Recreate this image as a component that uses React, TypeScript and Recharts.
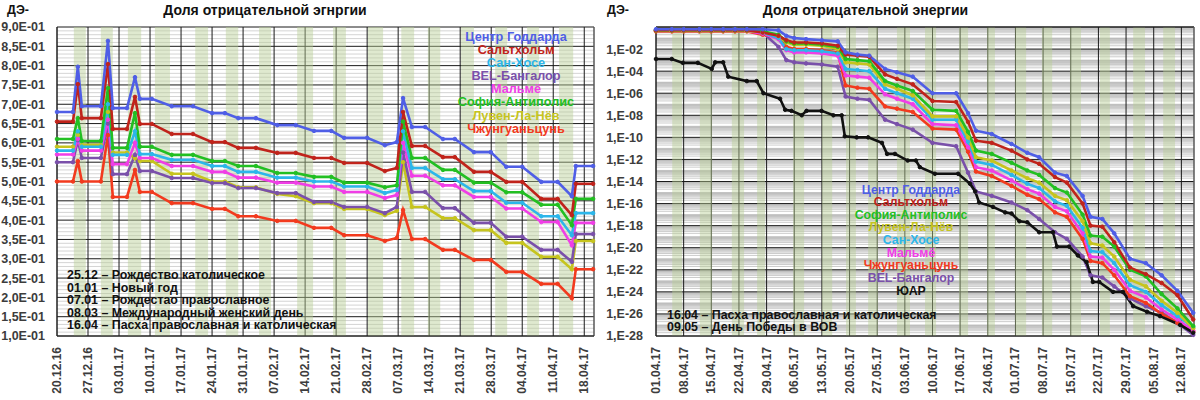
import { LineChart, Line, XAxis, YAxis, CartesianGrid, ReferenceArea, ReferenceLine } from 'recharts'

const FONT = '"Liberation Sans", Arial, sans-serif'

// ---------- left panel: linear share, Dec 2016 - Apr 2017 (x = days since 20.12.16)
const leftDays = [0, 3.6, 4.7, 5.6, 9.9, 11.5, 12.6, 15.8, 17.6, 18.7, 21.4, 25.9, 30.7, 35, 37.9, 40.9, 44.9, 49.7, 53.9, 58, 61.9, 64.8, 70, 74, 76.7, 78.1, 80.1, 83.1, 87.1, 89.8, 94.1, 97.9, 101.4, 105, 109.3, 113, 116.2, 117.1, 121]
const goddardL = [0.68, 0.68, 0.797, 0.695, 0.695, 0.864, 0.69, 0.69, 0.77, 0.714, 0.714, 0.695, 0.695, 0.677, 0.677, 0.664, 0.664, 0.646, 0.646, 0.631, 0.631, 0.613, 0.613, 0.594, 0.602, 0.716, 0.641, 0.641, 0.61, 0.61, 0.576, 0.576, 0.538, 0.538, 0.499, 0.499, 0.462, 0.54, 0.54]
const saltholmL = [0.655, 0.655, 0.752, 0.664, 0.664, 0.804, 0.636, 0.636, 0.719, 0.649, 0.649, 0.623, 0.623, 0.602, 0.602, 0.587, 0.587, 0.574, 0.574, 0.561, 0.561, 0.548, 0.548, 0.527, 0.535, 0.68, 0.592, 0.592, 0.563, 0.563, 0.525, 0.525, 0.499, 0.499, 0.455, 0.455, 0.413, 0.494, 0.494]
const sanJoseL = [0.58, 0.58, 0.63, 0.59, 0.59, 0.7, 0.569, 0.569, 0.63, 0.571, 0.571, 0.556, 0.556, 0.54, 0.54, 0.525, 0.525, 0.51, 0.51, 0.5, 0.5, 0.487, 0.487, 0.47, 0.478, 0.63, 0.535, 0.535, 0.506, 0.506, 0.475, 0.475, 0.445, 0.445, 0.41, 0.41, 0.361, 0.418, 0.418]
const bangaloreL = [0.55, 0.55, 0.607, 0.561, 0.561, 0.65, 0.519, 0.519, 0.569, 0.527, 0.527, 0.509, 0.509, 0.496, 0.496, 0.483, 0.483, 0.47, 0.47, 0.447, 0.447, 0.434, 0.434, 0.418, 0.434, 0.575, 0.473, 0.473, 0.431, 0.431, 0.393, 0.393, 0.357, 0.357, 0.323, 0.323, 0.292, 0.364, 0.364]
const malmoL = [0.57, 0.57, 0.61, 0.58, 0.58, 0.66, 0.545, 0.545, 0.6, 0.561, 0.561, 0.54, 0.54, 0.525, 0.525, 0.51, 0.51, 0.497, 0.497, 0.487, 0.487, 0.473, 0.473, 0.457, 0.465, 0.6, 0.515, 0.515, 0.49, 0.49, 0.46, 0.46, 0.43, 0.43, 0.395, 0.395, 0.335, 0.393, 0.393]
const sophiaL = [0.61, 0.61, 0.664, 0.605, 0.605, 0.742, 0.587, 0.587, 0.677, 0.59, 0.59, 0.569, 0.569, 0.553, 0.553, 0.54, 0.54, 0.522, 0.522, 0.512, 0.512, 0.497, 0.497, 0.485, 0.49, 0.655, 0.561, 0.561, 0.53, 0.53, 0.497, 0.497, 0.472, 0.472, 0.44, 0.44, 0.387, 0.455, 0.455]
const louvainL = [0.59, 0.59, 0.62, 0.595, 0.595, 0.68, 0.575, 0.575, 0.56, 0.553, 0.553, 0.52, 0.52, 0.5, 0.5, 0.485, 0.485, 0.468, 0.462, 0.444, 0.444, 0.429, 0.429, 0.413, 0.424, 0.55, 0.434, 0.434, 0.405, 0.405, 0.374, 0.374, 0.341, 0.341, 0.305, 0.305, 0.273, 0.346, 0.346]
const zhongguancunL = [0.5, 0.5, 0.553, 0.5, 0.5, 0.62, 0.46, 0.46, 0.53, 0.473, 0.473, 0.444, 0.444, 0.429, 0.429, 0.41, 0.41, 0.398, 0.398, 0.38, 0.38, 0.361, 0.361, 0.346, 0.354, 0.426, 0.351, 0.351, 0.323, 0.323, 0.297, 0.297, 0.266, 0.266, 0.235, 0.235, 0.198, 0.273, 0.273]

const leftTickDays = [0, 7, 14, 21, 28, 35, 42, 49, 56, 63, 70, 77, 84, 91, 98, 105, 112, 119]
const leftTickLabels = ['20.12.16', '27.12.16', '03.01.17', '10.01.17', '17.01.17', '24.01.17', '31.01.17', '07.02.17', '14.02.17', '21.02.17', '28.02.17', '07.03.17', '14.03.17', '21.03.17', '28.03.17', '04.04.17', '11.04.17', '18.04.17']
const leftYTicks = [0.1, 0.15, 0.2, 0.25, 0.3, 0.35, 0.4, 0.45, 0.5, 0.55, 0.6, 0.65, 0.7, 0.75, 0.8, 0.85, 0.9]
const leftBands = [[3.8, 6.5], [9.9, 12.6], [16, 19], [22.1, 25.5], [31.2, 34.1], [38.1, 40.9], [45.6, 48.3], [54.2, 57.8], [62.3, 65.2], [70.2, 73.6], [77.7, 80.6], [83.7, 86.5], [91.2, 94.1], [98.9, 101.6], [106.1, 108.8], [113.3, 116.5]]
const leftNotes = ['25.12 – Рождество католическое', '01.01 – Новый год', '07.01 – Рождестао православное', '08.03 – Международный женский день', '16.04 – Пасха православная и католическая']

// ---------- right panel: log10 of share, Apr - Aug 2017 (x = days since 01.04.17)
const rightDays = [0, 4, 7, 11, 14, 17, 20, 23, 27, 31, 33, 35, 38, 42, 46, 48, 51, 54, 58, 61, 65, 70, 76, 79, 81, 85, 90, 94, 97, 101, 104, 108, 110, 113, 116, 120, 124, 128, 132, 136]
const goddardR = [-0.2, -0.2, -0.2, -0.2, -0.2, -0.2, -0.2, -0.2, -0.2, -0.3, -0.8, -1.0, -1.1, -1.2, -1.3, -2.3, -2.5, -2.6, -3.8, -4.1, -4.5, -6.0, -6.0, -7.8, -9.4, -9.7, -10.6, -11.4, -11.8, -13.2, -13.5, -15.3, -17.2, -17.4, -18.7, -21, -21.4, -22.5, -23.9, -25.9]
const saltholmR = [-0.3, -0.3, -0.3, -0.3, -0.3, -0.3, -0.3, -0.3, -0.5, -0.8, -1.2, -1.4, -1.4, -1.5, -1.7, -2.5, -2.6, -2.7, -4.3, -4.7, -5.2, -6.7, -6.8, -8.6, -10.3, -10.5, -11.2, -12.0, -12.4, -13.6, -14.1, -16.0, -18.0, -18.1, -19.5, -21.8, -22.4, -23.2, -24.3, -26.5]
const sophiaR = [-0.3, -0.3, -0.3, -0.3, -0.3, -0.3, -0.3, -0.3, -0.4, -0.7, -1.3, -1.5, -1.5, -1.6, -1.8, -2.9, -3.0, -3.1, -4.9, -5.3, -5.8, -7.5, -7.6, -9.5, -11.2, -11.5, -12.3, -13.0, -13.4, -14.6, -15.0, -17.0, -18.9, -19.0, -19.9, -22.0, -22.6, -24.2, -25.5, -27.1]
const louvainR = [-0.35, -0.35, -0.35, -0.35, -0.35, -0.35, -0.35, -0.35, -0.45, -0.8, -1.4, -1.6, -1.6, -1.7, -2.0, -3.2, -3.3, -3.4, -5.2, -5.6, -6.2, -8.1, -8.1, -10.0, -11.8, -12.1, -13.0, -13.7, -14.1, -15.3, -15.7, -17.6, -19.6, -19.8, -20.8, -22.9, -23.5, -24.8, -25.9, -27.3]
const sanJoseR = [-0.3, -0.3, -0.3, -0.3, -0.3, -0.3, -0.3, -0.3, -0.5, -1.0, -2.0, -2.1, -2.1, -2.2, -2.4, -3.8, -3.9, -4.0, -5.6, -6.0, -6.5, -8.4, -8.4, -10.4, -12.2, -12.5, -13.4, -14.2, -14.6, -15.8, -16.2, -18.2, -20.3, -20.4, -21.4, -23.4, -24.0, -25.2, -26.2, -27.2]
const malmoR = [-0.35, -0.35, -0.35, -0.35, -0.35, -0.35, -0.35, -0.35, -0.6, -1.1, -2.1, -2.3, -2.3, -2.4, -2.6, -4.4, -4.5, -4.6, -6.1, -6.5, -7.0, -8.8, -8.9, -10.9, -12.7, -13.0, -13.9, -14.7, -15.1, -16.3, -16.7, -18.7, -20.8, -20.9, -22.0, -23.9, -24.5, -25.6, -26.5, -27.5]
const zhongguancunR = [-0.4, -0.4, -0.4, -0.4, -0.4, -0.4, -0.4, -0.4, -0.7, -0.9, -1.8, -2.0, -2.0, -2.1, -2.3, -5.3, -5.5, -5.6, -7.2, -7.4, -7.7, -9.2, -9.3, -11.3, -13.1, -13.5, -14.4, -15.2, -15.6, -16.8, -17.2, -19.2, -21.2, -21.4, -22.5, -24.4, -25.0, -26.0, -26.8, -27.6]
const bangaloreR = [-0.25, -0.25, -0.25, -0.25, -0.25, -0.25, -0.25, -0.25, -0.5, -1.8, -3.0, -3.2, -3.3, -3.4, -3.6, -6.3, -6.5, -6.6, -8.4, -8.8, -9.3, -10.5, -10.8, -13.2, -14.9, -15.3, -15.9, -16.6, -17.4, -18.6, -19.2, -20.8, -22.5, -22.7, -23.5, -24.6, -25.3, -25.9, -26.8, -27.9]
const safricaDays = [0, 4, 6.8, 10.6, 14.1, 15, 17, 18.3, 23, 25.5, 27.2, 31.4, 32.7, 34.3, 36.9, 38.1, 41.9, 44.9, 47, 47.8, 50.8, 53.7, 57.2, 58.5, 60.5, 63.7, 65.8, 66.8, 70.6, 76.5, 79.5, 80.8, 81.8, 85.3, 88.4, 90, 92, 94, 97, 100.5, 101.5, 104.6, 106.8, 109, 110.6, 112.2, 115.7, 118.2, 120.8, 124.3, 127.6, 132.7, 136]
const safricaR = [-2.9, -2.9, -3.25, -3.25, -3.8, -3.2, -3.2, -4.5, -4.9, -4.9, -6.0, -6.5, -7.5, -7.6, -8.0, -7.6, -7.6, -8.0, -8.0, -9.9, -10.0, -10.0, -10.5, -11.5, -11.5, -12.1, -12.1, -12.7, -13.3, -13.3, -14.2, -14.9, -15.9, -16.3, -16.8, -16.9, -17.6, -17.7, -18.6, -18.6, -19.9, -19.9, -20.7, -21.3, -23.1, -23.1, -24.0, -24.0, -25.3, -25.8, -26.2, -27.0, -27.7]

const rightTickDays = [0, 7, 14, 21, 28, 35, 42, 49, 56, 63, 70, 77, 84, 91, 98, 105, 112, 119, 126, 133]
const rightTickLabels = ['01.04.17', '08.04.17', '15.04.17', '22.04.17', '29.04.17', '06.05.17', '13.05.17', '20.05.17', '27.05.17', '03.06.17', '10.06.17', '17.06.17', '24.06.17', '01.07.17', '08.07.17', '15.07.17', '22.07.17', '29.07.17', '05.08.17', '12.08.17']
const rightYTicks = [-28, -26, -24, -22, -20, -18, -16, -14, -12, -10, -8, -6, -4, -2]
const rightBands = [[4.1, 6.6], [11.1, 14.2], [19.2, 22.3], [25.6, 27.6], [34.7, 37.5], [42, 44.6], [48.1, 50.6], [53.7, 56.2], [61, 64.3], [68.1, 70.9], [76.7, 79], [83.8, 85.8], [90.9, 93.7], [97.7, 100.3], [104.8, 107.6], [112.4, 114.9], [120.8, 123.8], [128.4, 131.4]]
const rightNotes = ['16.04 – Пасха православная и католическая', '09.05 – День Победы в ВОВ']

const COLORS = {
  goddard: '#4f5ee6',
  saltholm: '#c0231b',
  sanJose: '#2cb6ea',
  bangalore: '#7a50aa',
  malmo: '#f03ee6',
  sophia: '#22bf22',
  louvain: '#c6c41e',
  zhongguancun: '#f23a1e',
  safrica: '#111111',
}
const NAMES = {
  goddard: 'Центр Годдарда',
  saltholm: 'Сальтхольм',
  sanJose: 'Сан-Хосе',
  bangalore: 'BEL-Бангалор',
  malmo: 'Мальмё',
  sophia: 'София-Антиполис',
  louvain: 'Лувен-Ла-Нёв',
  zhongguancun: 'Чжунгуаньцунь',
  safrica: 'ЮАР',
}
const leftOrder = ['goddard', 'saltholm', 'sanJose', 'bangalore', 'malmo', 'sophia', 'louvain', 'zhongguancun']
const rightOrder = ['goddard', 'saltholm', 'sophia', 'louvain', 'sanJose', 'malmo', 'zhongguancun', 'bangalore', 'safrica']

const leftData = leftDays.map((d, i) => ({
  d,
  goddard: goddardL[i], saltholm: saltholmL[i], sanJose: sanJoseL[i], bangalore: bangaloreL[i],
  malmo: malmoL[i], sophia: sophiaL[i], louvain: louvainL[i], zhongguancun: zhongguancunL[i],
}))
const rightData = rightDays.map((d, i) => ({
  d,
  goddard: goddardR[i], saltholm: saltholmR[i], sophia: sophiaR[i], louvain: louvainR[i],
  sanJose: sanJoseR[i], malmo: malmoR[i], zhongguancun: zhongguancunR[i], bangalore: bangaloreR[i],
}))
const safricaData = safricaDays.map((d, i) => ({ d, safrica: safricaR[i] }))

// thin grey helper grid lines
const leftMinor: number[] = []
for (let k = 11; k < 90; k++) if (k % 5 !== 0) leftMinor.push(k / 100)
const rightMinor: number[] = []
for (let n = -28; n < 0; n++) {
  for (let k = 1; k <= 9; k++) {
    if (k === 1 && n % 2 === 0) continue
    rightMinor.push(n + Math.log10(k))
  }
}

const tickStyle = { fill: '#3c3c3c', fontSize: 12.5, fontWeight: 700, fontFamily: FONT }

function DateTick(props: any) {
  const { x, y, payload, days, labels } = props
  const label = labels[days.indexOf(payload.value)] ?? ''
  return (
    <text x={x} y={y} transform={`rotate(-90 ${x} ${y})`} textAnchor="end" dominantBaseline="central"
      style={{ ...tickStyle, fontSize: 12 }} fill="#3c3c3c">
      {label}
    </text>
  )
}

const fmtLeft = (v: number) => (v * 10).toFixed(1).replace('.', ',') + 'E-01'
const fmtRight = (v: number) => '1,E-' + String(Math.abs(v)).padStart(2, '0')

function NameList({ keys, left, top, lh, size }: { keys: string[]; left: number; top: number; lh: number; size: number }) {
  return (
    <div style={{ position: 'absolute', left, top, width: 170, textAlign: 'center', fontFamily: FONT, fontWeight: 700, fontSize: size, lineHeight: `${lh}px` }}>
      {keys.map(k => <div key={k} style={{ color: (COLORS as any)[k], whiteSpace: 'nowrap' }}>{(NAMES as any)[k]}</div>)}
    </div>
  )
}

function Notes({ lines, top }: { lines: string[]; top: number }) {
  return (
    <div style={{ position: 'absolute', left: 67, top, fontFamily: FONT, fontWeight: 700, fontSize: 12.4, lineHeight: '12.6px', color: '#111', whiteSpace: 'nowrap' }}>
      {lines.map(l => <div key={l}>{l}</div>)}
    </div>
  )
}

function Title({ text, center }: { text: string; center: number }) {
  return (
    <>
      <div style={{ position: 'absolute', left: 7, top: 3, fontFamily: FONT, fontWeight: 700, fontSize: 12.5, color: '#111' }}>ДЭ-</div>
      <div style={{ position: 'absolute', left: center - 200, width: 400, top: 2, textAlign: 'center', fontFamily: FONT, fontWeight: 700, fontSize: 14, color: '#111' }}>{text}</div>
    </>
  )
}

const dot = (c: string) => ({ r: 1.8, fill: c, stroke: c, strokeWidth: 1 })

function LeftPanel() {
  const drawOrder = ['zhongguancun', 'louvain', 'bangalore', 'malmo', 'sanJose', 'sophia', 'saltholm', 'goddard']
  return (
    <div style={{ position: 'absolute', left: 0, top: 0, width: 600, height: 400 }}>
      <LineChart width={600} height={400} data={leftData} margin={{ top: 27, right: 6, bottom: 0, left: 0 }}>
        <CartesianGrid horizontalValues={leftMinor} vertical={false} stroke="#c2c2c2" strokeWidth={0.7} />
        {leftBands.map(([a, b]) => (
          <ReferenceArea key={a} x1={a} x2={b} fill="#b9cf95" fillOpacity={0.45} stroke="none" ifOverflow="hidden" />
        ))}
        <CartesianGrid stroke="#1a1a1a" strokeWidth={1} />
        <ReferenceLine x={121.2} stroke="#777" />
        <XAxis type="number" dataKey="d" domain={[0, 121.2]} ticks={leftTickDays} interval={0} height={64}
          tickLine={false} tickSize={0} tickMargin={11} axisLine={{ stroke: '#222' }}
          tick={<DateTick days={leftTickDays} labels={leftTickLabels} />} />
        <YAxis type="number" domain={[0.1, 0.9]} ticks={leftYTicks} interval={0} width={57}
          tickLine={false} tickSize={0} tickMargin={12} axisLine={{ stroke: '#222' }}
          tick={tickStyle} tickFormatter={fmtLeft} />
        {drawOrder.map(k => (
          <Line key={k} type="linear" dataKey={k} stroke={(COLORS as any)[k]} strokeWidth={2.6}
            dot={dot((COLORS as any)[k])} isAnimationActive={false} />
        ))}
      </LineChart>
      <Title text="Доля отрицательной эгнргии" center={265} />
      <NameList keys={leftOrder} left={431} top={31} lh={13.1} size={12.7} />
      <Notes lines={leftNotes} top={269} />
    </div>
  )
}

function RightPanel() {
  const drawOrder = ['bangalore', 'zhongguancun', 'malmo', 'sanJose', 'louvain', 'sophia', 'saltholm', 'goddard']
  return (
    <div style={{ position: 'absolute', left: 600, top: 0, width: 600, height: 400 }}>
      <LineChart width={600} height={400} data={rightData} margin={{ top: 27, right: 6, bottom: 0, left: 0 }}>
        <CartesianGrid horizontalValues={rightMinor} vertical={false} stroke="#aaaaaa" strokeWidth={0.6} />
        {rightBands.map(([a, b]) => (
          <ReferenceArea key={a} x1={a} x2={b} fill="#b9cf95" fillOpacity={0.45} stroke="none" ifOverflow="hidden" />
        ))}
        <CartesianGrid stroke="#1a1a1a" strokeWidth={1} />
        <ReferenceLine y={0} stroke="#1a1a1a" />
        <ReferenceLine x={136.2} stroke="#777" />
        <XAxis type="number" dataKey="d" domain={[0, 136.2]} ticks={rightTickDays} interval={0} height={64}
          tickLine={false} tickSize={0} tickMargin={11} axisLine={{ stroke: '#222' }}
          tick={<DateTick days={rightTickDays} labels={rightTickLabels} />} />
        <YAxis type="number" domain={[-28, 0]} ticks={rightYTicks} interval={0} width={56}
          tickLine={false} tickSize={0} tickMargin={13} axisLine={{ stroke: '#222' }}
          tick={tickStyle} tickFormatter={fmtRight} />
        {drawOrder.map(k => (
          <Line key={k} type="linear" dataKey={k} stroke={(COLORS as any)[k]} strokeWidth={2.6}
            dot={dot((COLORS as any)[k])} isAnimationActive={false} />
        ))}
        <Line data={safricaData} type="linear" dataKey="safrica" stroke={COLORS.safrica} strokeWidth={2.6}
          dot={dot(COLORS.safrica)} isAnimationActive={false} />
      </LineChart>
      <Title text="Доля отрицательной энергии" center={265.5} />
      <NameList keys={rightOrder} left={226} top={183.5} lh={12.65} size={12.3} />
      <Notes lines={rightNotes} top={308.5} />
    </div>
  )
}

export default function App() {
  return (
    <div style={{ position: 'absolute', left: 0, top: 0, width: 1200, height: 400, background: '#fff', overflow: 'hidden' }}>
      <LeftPanel />
      <RightPanel />
    </div>
  )
}
